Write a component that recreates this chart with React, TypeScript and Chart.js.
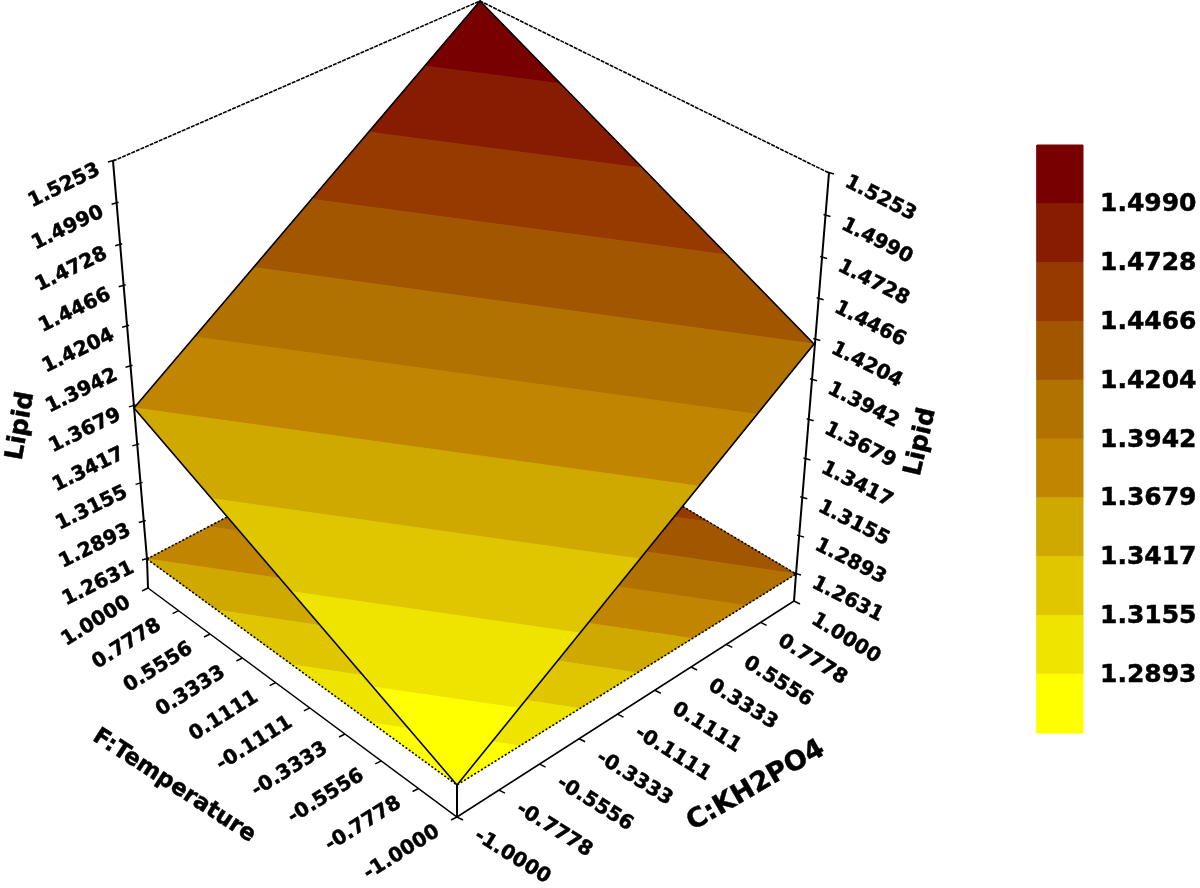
import React, { useEffect, useRef } from "react";
import { Chart, registerables } from "chart.js";

Chart.register(...registerables);

// ---- data ----
const levels = [1.2631, 1.2893, 1.3155, 1.3417, 1.3679, 1.3942, 1.4204, 1.4466, 1.4728, 1.499, 1.5253];
const zTickLabels = ["1.2631", "1.2893", "1.3155", "1.3417", "1.3679", "1.3942", "1.4204", "1.4466", "1.4728", "1.4990", "1.5253"];
const legendLabels = ["1.2893", "1.3155", "1.3417", "1.3679", "1.3942", "1.4204", "1.4466", "1.4728", "1.4990"];
const factorTicks = ["-1.0000", "-0.7778", "-0.5556", "-0.3333", "-0.1111", "0.1111", "0.3333", "0.5556", "0.7778", "1.0000"];
const bandColors = ["#ffff00", "#eee400", "#dfc600", "#cfa800", "#c28500", "#b27200", "#a35600", "#963a00", "#871c00", "#780000"];
// Lipid at the corners of the design space: [F, C, value]
const surfaceCorners = [
  [-1, -1, 1.2631],
  [1, -1, 1.3679],
  [1, 1, 1.5253],
  [-1, 1, 1.4204],
];

// ---- view (pixel frame of the 3D box) ----
const FLOOR = { front: [457, 785], left: [147, 559], back: [479, 385], right: [796, 574] };
const TOP = { left: [113, 161], back: [480, 1], right: [829, 173] };
const BASE = { front: [457, 817], left: [148, 588], right: [794, 601] };
const SURFACE_PIX = { front: [457, 785], left: [134, 408], back: [480, 1], right: [814, 344] };
const BAR = { x0: 1037, x1: 1083, y0: 733, y1: 145 };
const FONT = '"DejaVu Sans"';

type P = { x: number; y: number };
const warp = (t: number, s: number) => (t <= 0 ? 0 : t / (t + (1 - t) * s));
const mix = (a: number[], b: number[], t: number) => [a[0] + (b[0] - a[0]) * t, a[1] + (b[1] - a[1]) * t];
function quad(q: any, u: number, v: number, s: number): P {
  const a = warp((u + 1) / 2, s);
  const b = warp((v + 1) / 2, s);
  const p = mix(mix(q.front, q.left, a), mix(q.right, q.back, a), b);
  return { x: p[0], y: p[1] };
}
const floorPt = (u: number, v: number) => quad(FLOOR, u, v, 0.88);
const surfPt = (u: number, v: number) => quad(SURFACE_PIX, u, v, 0.95);
const zT = (z: number) => warp((z - levels[0]) / (levels[10] - levels[0]), 1.065);
const zPt = (side: "left" | "right", z: number): P => {
  const p = mix((FLOOR as any)[side], (TOP as any)[side], zT(z));
  return { x: p[0], y: p[1] };
};
const baseF = (u: number): P => {
  const p = mix(BASE.front, BASE.left, warp((u + 1) / 2, 0.88));
  return { x: p[0], y: p[1] };
};
const baseC = (v: number): P => {
  const p = mix(BASE.front, BASE.right, warp((v + 1) / 2, 0.88));
  return { x: p[0], y: p[1] };
};

// clip the design-space square to one band of Lipid values
function clip(poly: number[][], level: number, above: boolean) {
  const out: number[][] = [];
  const inside = (p: number[]) => (above ? p[2] >= level : p[2] <= level);
  poly.forEach((a, i) => {
    const b = poly[(i + 1) % poly.length];
    if (inside(a)) out.push(a);
    if (inside(a) !== inside(b)) {
      const t = (level - a[2]) / (b[2] - a[2]);
      out.push([a[0] + (b[0] - a[0]) * t, a[1] + (b[1] - a[1]) * t, level]);
    }
  });
  return out;
}
const band = (i: number) => clip(clip(surfaceCorners, levels[i], true), levels[i + 1], false);
const poly = (pts: P[], color: string, order: number) => ({
  data: [...pts, pts[0]],
  showLine: true,
  fill: "shape",
  backgroundColor: color,
  borderColor: color,
  borderWidth: 1,
  pointRadius: 0,
  order,
  clip: false,
});
const line = (pts: P[], width: number, order = 5, dash: number[] = []) => ({
  data: pts,
  showLine: true,
  fill: false,
  borderColor: "#000",
  borderWidth: width,
  borderDash: dash,
  pointRadius: 0,
  order,
  clip: false,
});
const off = (p: P, dx: number, dy: number): P => ({ x: p.x + dx, y: p.y + dy });
const asP = (a: number[]): P => ({ x: a[0], y: a[1] });

function buildDatasets() {
  const ds: any[] = [];
  bandColors.forEach((c, i) => {
    const b = band(i);
    ds.push(poly(b.map((p) => floorPt(p[0], p[1])), c, 50));
    ds.push(poly(b.map((p) => surfPt(p[0], p[1])), c, 40));
    const y0 = BAR.y0 + ((BAR.y1 - BAR.y0) * i) / bandColors.length;
    const y1 = BAR.y0 + ((BAR.y1 - BAR.y0) * (i + 1)) / bandColors.length;
    ds.push(poly([{ x: BAR.x0, y: y0 }, { x: BAR.x1, y: y0 }, { x: BAR.x1, y: y1 }, { x: BAR.x0, y: y1 }], c, 50));
  });
  // surface outline
  const sc = [surfPt(-1, -1), surfPt(1, -1), surfPt(1, 1), surfPt(-1, 1), surfPt(-1, -1)];
  ds.push(line(sc, 1.6, 10));
  // floor outline (dotted in the reference)
  ds.push(line([asP(FLOOR.left), asP(FLOOR.front), asP(FLOOR.right)], 1.6, 45, [2, 2]));
  ds.push(line([asP(FLOOR.left), asP(FLOOR.back), asP(FLOOR.right)], 1.6, 45, [2, 2]));
  // box frame
  ds.push(line([asP(TOP.left), asP(TOP.back), asP(TOP.right)], 1.6, 60, [4, 1]));
  ds.push(line([asP(TOP.left), asP(FLOOR.left), asP(BASE.left)], 2));
  ds.push(line([asP(TOP.right), asP(FLOOR.right), asP(BASE.right)], 2));
  ds.push(line([asP(FLOOR.front), asP(BASE.front)], 2));
  ds.push(line([asP(BASE.left), asP(BASE.front), asP(BASE.right)], 1.5));
  // ticks
  zTickLabels.forEach((l) => {
    const z = parseFloat(l);
    const a = zPt("left", z);
    ds.push(line([off(a, -5, 1), off(a, 2, -1)], 1.5));
    const b = zPt("right", z);
    ds.push(line([off(b, -2, -1), off(b, 5, 1)], 1.5));
  });
  factorTicks.forEach((l) => {
    const t = parseFloat(l);
    const a = baseF(t);
    ds.push(line([off(a, -6, 3), a], 1.5));
    const b = baseC(t);
    ds.push(line([b, off(b, 6, 3)], 1.5));
  });
  return ds;
}

const textPlugin = {
  id: "labels3d",
  afterDatasetsDraw(chart: any) {
    const ctx: CanvasRenderingContext2D = chart.ctx;
    const put = (s: string, x: number, y: number, deg: number, align: CanvasTextAlign, font: string) => {
      ctx.save();
      ctx.translate(x, y);
      ctx.rotate((deg * Math.PI) / 180);
      ctx.font = font;
      ctx.fillStyle = "#000";
      ctx.strokeStyle = "#000";
      ctx.lineWidth = 0.5;
      ctx.textAlign = align;
      ctx.textBaseline = "middle";
      ctx.fillText(s, 0, 0);
      ctx.strokeText(s, 0, 0);
      ctx.restore();
    };
    const tick = `bold 20px ${FONT}`;
    zTickLabels.forEach((l) => {
      const z = parseFloat(l);
      const a = zPt("left", z);
      put(l, a.x - 14, a.y + 8, -26, "right", tick);
      const b = zPt("right", z);
      put(l, b.x + 17, b.y + 8, 27, "left", tick);
    });
    factorTicks.forEach((l) => {
      const t = parseFloat(l);
      const a = baseF(t);
      put(l, a.x - 19, a.y + 13, -32, "right", tick);
      const b = baseC(t);
      put(l, b.x + 19, b.y + 17, 32, "left", tick);
    });
    legendLabels.forEach((l) => {
      const i = levels.findIndex((v) => Math.abs(v - parseFloat(l)) < 1e-6);
      const y = BAR.y0 + ((BAR.y1 - BAR.y0) * i) / (levels.length - 1);
      put(l, 1100, y + 1, 0, "left", `bold 25px ${FONT}`);
    });
    put("Lipid", 21, 426, -80, "center", `bold 25px ${FONT}`);
    put("Lipid", 921, 442, -77, "center", `bold 25px ${FONT}`);
    put("F:Temperature", 174, 786, 33, "center", `bold 23px ${FONT}`);
    put("C:KH2PO4", 756, 786, -30, "center", `bold 27px ${FONT}`);
  },
};

export default function App() {
  const ref = useRef<HTMLCanvasElement>(null);
  useEffect(() => {
    const chart = new Chart(ref.current as HTMLCanvasElement, {
      type: "scatter",
      data: { datasets: buildDatasets() },
      options: {
        animation: false,
        responsive: false,
        layout: { padding: 0 },
        plugins: { legend: { display: false }, tooltip: { enabled: false }, title: { display: false } },
        scales: {
          x: { type: "linear", min: 0, max: 1200, display: false },
          y: { type: "linear", min: 0, max: 888, reverse: true, display: false },
        },
      },
      plugins: [textPlugin],
    } as any);
    return () => chart.destroy();
  }, []);
  return (
    <canvas
      ref={ref}
      width={1200}
      height={888}
      style={{ position: "fixed", left: 0, top: 0, width: 1200, height: 888, background: "#fff" }}
    />
  );
}
